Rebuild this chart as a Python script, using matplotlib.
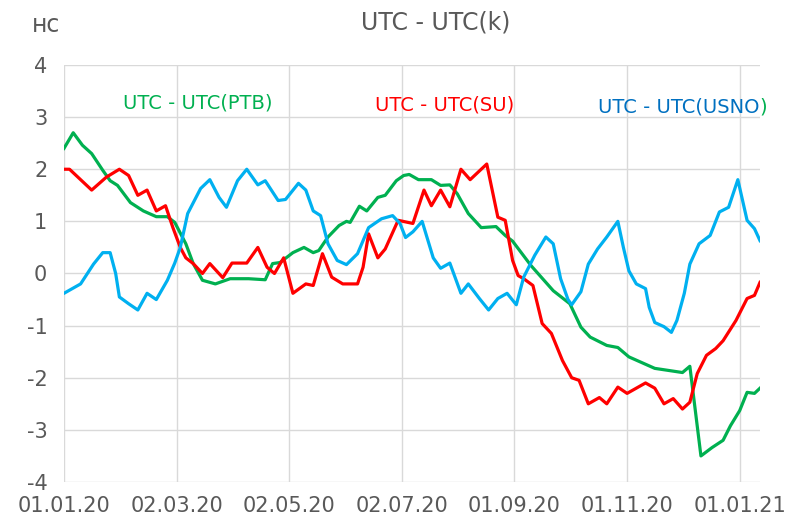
import numpy as np
import matplotlib
matplotlib.use("Agg")
import matplotlib.pyplot as plt
import matplotlib.dates as mdates

plt.rcParams["axes.unicode_minus"] = False

start = np.datetime64("2020-01-01")

# UTC - UTC(PTB)
ptb_days = [0, 5, 10, 15, 21, 25, 29, 36, 43, 50, 56, 60, 66, 70, 75, 82, 90, 100, 109, 113,
            117, 124, 130, 135, 138, 143, 149, 153, 155, 160, 164, 170, 174, 180, 184, 187, 192, 199, 204, 209,
            213, 219, 226, 234, 239, 243, 253, 265, 274, 280, 285, 294, 300, 306, 320, 335, 339, 345, 351, 357,
            361, 366, 370, 374, 377]
ptb_vals = [2.4, 2.7, 2.46, 2.3, 1.98, 1.78, 1.69, 1.36, 1.2, 1.09, 1.09, 0.98, 0.57, 0.19, -0.13, -0.2, -0.1, -0.1, -0.12, 0.19,
            0.21, 0.4, 0.5, 0.4, 0.44, 0.7, 0.92, 1.0, 0.98, 1.29, 1.2, 1.46, 1.5, 1.78, 1.88, 1.9, 1.8, 1.8, 1.69, 1.7,
            1.53, 1.15, 0.88, 0.9, 0.73, 0.62, 0.15, -0.33, -0.58, -1.03, -1.22, -1.38, -1.42, -1.6, -1.82, -1.9, -1.78, -3.5, -3.34, -3.2,
            -2.92, -2.63, -2.28, -2.3, -2.2]

# UTC - UTC(SU)
su_days = [0, 3, 15, 23, 30, 35, 40, 45, 50, 55, 59, 63, 66, 70, 75, 79, 86, 91, 99, 105,
           110, 114, 119, 124, 131, 135, 140, 145, 151, 159, 162, 165, 170, 174, 181, 189, 195, 199, 204, 209,
           215, 220, 229, 235, 239, 243, 246, 249, 254, 259, 264, 270, 275, 279, 284, 290, 294, 300, 305, 315,
           320, 325, 330, 335, 339, 343, 348, 353, 357, 364, 370, 374, 377]
su_vals = [2.0, 2.0, 1.6, 1.85, 2.0, 1.88, 1.5, 1.6, 1.2, 1.3, 0.88, 0.5, 0.3, 0.19, 0.0, 0.19, -0.08, 0.2, 0.2, 0.5,
           0.12, 0.0, 0.3, -0.38, -0.2, -0.23, 0.38, -0.07, -0.2, -0.2, 0.12, 0.76, 0.3, 0.47, 1.02, 0.96, 1.6, 1.3, 1.6, 1.28,
           2.0, 1.8, 2.1, 1.08, 1.02, 0.25, -0.04, -0.1, -0.23, -0.96, -1.15, -1.67, -2.0, -2.05, -2.5, -2.38, -2.5, -2.18, -2.3, -2.1,
           -2.2, -2.5, -2.4, -2.6, -2.47, -1.92, -1.57, -1.44, -1.29, -0.9, -0.48, -0.42, -0.17]

# UTC - UTC(USNO)
usno_days = [0, 9, 16, 21, 25, 28, 30, 35, 40, 45, 50, 56, 60, 63, 67, 74, 79, 84, 88, 94,
             99, 105, 109, 116, 120, 127, 131, 135, 139, 143, 148, 153, 159, 165, 172, 178, 182, 185, 189, 194,
             200, 204, 209, 215, 219, 225, 230, 235, 240, 245, 249, 255, 261, 265, 269, 273, 275, 280, 284, 289,
             294, 300, 303, 306, 310, 315, 317, 320, 325, 329, 332, 336, 339, 344, 350, 355, 360, 365, 370, 374,
             377]
usno_vals = [-0.38, -0.2, 0.18, 0.4, 0.4, 0.0, -0.45, -0.58, -0.7, -0.38, -0.5, -0.13, 0.2, 0.5, 1.15, 1.63, 1.8, 1.46, 1.27, 1.78,
             2.0, 1.7, 1.78, 1.4, 1.42, 1.73, 1.6, 1.2, 1.11, 0.57, 0.25, 0.17, 0.38, 0.88, 1.05, 1.11, 0.96, 0.69, 0.8, 1.0,
             0.3, 0.1, 0.2, -0.38, -0.2, -0.48, -0.7, -0.48, -0.38, -0.6, -0.07, 0.35, 0.7, 0.57, -0.1, -0.5, -0.6, -0.35, 0.18, 0.47,
             0.7, 1.0, 0.5, 0.05, -0.2, -0.29, -0.65, -0.94, -1.02, -1.13, -0.9, -0.38, 0.18, 0.57, 0.73, 1.18, 1.27, 1.8, 1.02, 0.86,
             0.63]

tick_dates = ["2020-01-01", "2020-03-02", "2020-05-02", "2020-07-02", "2020-09-01", "2020-11-01", "2021-01-01"]
y_ticks = [-4, -3, -2, -1, 0, 1, 2, 3, 4]

green = "#00B050"
red = "#FF0000"
blue = "#00B0F0"
dark_blue = "#0070C0"
grey = "#595959"


def to_dates(days):
    return start + np.array(days).astype("timedelta64[D]")


fig = plt.figure(figsize=(7.87, 5.17), dpi=100)
ax = fig.add_axes([0.0813, 0.0677, 0.8844, 0.8066])

ax.plot(to_dates(ptb_days), ptb_vals, color=green, lw=2.3, solid_joinstyle="round")
ax.plot(to_dates(su_days), su_vals, color=red, lw=2.3, solid_joinstyle="round")
ax.plot(to_dates(usno_days), usno_vals, color=blue, lw=2.3, solid_joinstyle="round")

ax.set_xlim(to_dates([0])[0], to_dates([usno_days[-1]])[0])
ax.set_ylim(-4, 4)
ax.set_yticks(y_ticks)
ax.set_xticks(np.array(tick_dates, dtype="datetime64[D]"))
ax.xaxis.set_major_formatter(mdates.DateFormatter("%d.%m.%y"))

ax.grid(True, color="#D9D9D9", lw=1)
ax.set_axisbelow(True)
for s in ax.spines.values():
    s.set_visible(False)
ax.tick_params(length=0, labelsize=15, colors=grey, pad=10)
ax.tick_params(axis="y", pad=12)

# подписи
fig.text(0.553, 0.957, "UTC - UTC(k)", ha="center", va="center", fontsize=17, color=grey)
fig.text(0.059, 0.952, "нс", ha="center", va="center", fontsize=17, color=grey)
fig.text(0.156, 0.801, "UTC - UTC(PTB)", ha="left", va="center", fontsize=14, color=green)
fig.text(0.476, 0.797, "UTC - UTC(SU)", ha="left", va="center", fontsize=14, color=red)
t = fig.text(0.760, 0.793, "UTC - UTC(USNO", ha="left", va="center", fontsize=14, color=dark_blue)
fig.canvas.draw()
bb = t.get_window_extent()
fig.text(bb.x1 / fig.bbox.width, 0.793, ")", ha="left", va="center", fontsize=14, color=green)

fig.savefig("out.png", dpi=100)
